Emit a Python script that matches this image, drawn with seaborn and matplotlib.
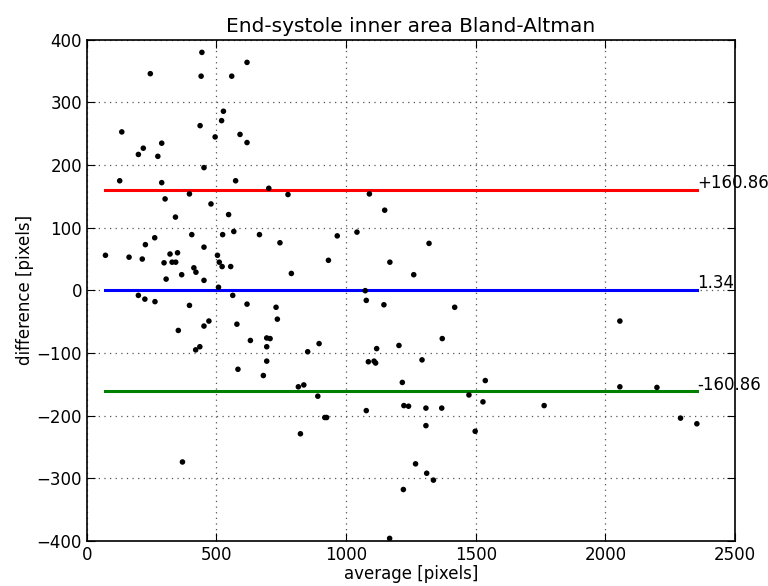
import matplotlib
matplotlib.use('Agg')
import matplotlib.pyplot as plt
import seaborn as sns
import pandas as pd

# valeurs
average = [444, 618, 245, 441, 559, 527, 520, 135, 437, 495, 591, 618, 289, 218, 199,
           274, 452, 127, 289, 574, 702, 396, 776, 302, 479, 547, 342, 405, 524, 567,
           666, 262, 745, 226, 452, 72, 163, 214, 321, 350, 504, 298, 329, 343, 511,
           522, 555, 413, 421, 932, 366, 789, 306, 452, 508, 199, 224, 263, 563, 396,
           618, 730, 735, 353, 471, 452, 579, 631, 694, 707, 694, 420, 436, 896, 852,
           694, 583, 681, 816, 837, 891, 918, 925, 824, 369,
           1090, 1149, 966, 1042, 1320, 1169, 1261, 1074, 1078, 1146, 1419,
           2056, 1371, 1204, 1118, 1086, 1108, 1114, 1293, 1217, 1537, 1474, 2056,
           2199, 1528, 1223, 1241, 1308, 1369, 1078, 1764, 1308, 1498, 1268, 1311,
           1337, 1221, 1168, 2290, 2353]
difference = [380, 364, 346, 342, 342, 286, 271, 253, 263, 245, 249, 236, 235, 227, 217,
              214, 196, 175, 172, 175, 163, 154, 153, 146, 138, 121, 117, 89, 89, 94,
              89, 84, 76, 73, 69, 56, 53, 50, 58, 60, 56, 44, 45, 45, 45,
              38, 38, 36, 29, 48, 25, 27, 18, 16, 5, -8, -14, -18, -8, -24,
              -22, -27, -46, -64, -49, -57, -54, -80, -76, -77, -90, -95, -90, -85, -98,
              -113, -126, -136, -154, -151, -169, -203, -203, -229, -274,
              154, 128, 87, 93, 75, 45, 25, -0.5, -16, -23, -27,
              -49, -77, -88, -93, -114, -113, -116, -111, -147, -144, -167, -154,
              -155, -178, -184, -185, -188, -188, -192, -184, -216, -225, -277, -292,
              -303, -318, -396, -204, -213]

mean_diff = 1.34
upper_limit = 160.86
lower_limit = -160.86
limit_labels = ['+160.86', '1.34', '-160.86']

df = pd.DataFrame({'average': average, 'difference': difference})

fig = plt.figure(figsize=(7.68, 5.86), dpi=100)
ax = fig.add_axes([0.113, 0.077, 0.844, 0.855])

sns.scatterplot(data=df, x='average', y='difference', ax=ax, color='black',
                s=16, edgecolor='none', zorder=3)

x_min = min(average)
x_max = max(average)
cores = ['red', 'blue', 'green']
for valor, cor, rotulo in zip([upper_limit, mean_diff, lower_limit], cores, limit_labels):
    ax.plot([x_min, x_max], [valor, valor], color=cor, linewidth=2.2, zorder=2)
    ax.text(x_max, valor + 2, rotulo, fontsize=12, color='black', zorder=4)

ax.set_xlim(0, 2500)
ax.set_ylim(-400, 400)
ax.set_xticks(range(0, 2501, 500))
ax.set_yticks(range(-400, 401, 100))
ax.grid(True, color='#555555', linestyle=(0, (1, 3.5)), linewidth=0.9)
ax.set_axisbelow(True)
ax.tick_params(direction='in', top=True, right=True, length=6, labelsize=12)
for lado in ax.spines.values():
    lado.set_linewidth(1.2)
    lado.set_color('black')

ax.set_title('End-systole inner area Bland-Altman', fontsize=14.5)
ax.set_xlabel('average [pixels]', fontsize=12, labelpad=1)
ax.set_ylabel('difference [pixels]', fontsize=12, labelpad=2)

fig.savefig('out.png', dpi=100)
